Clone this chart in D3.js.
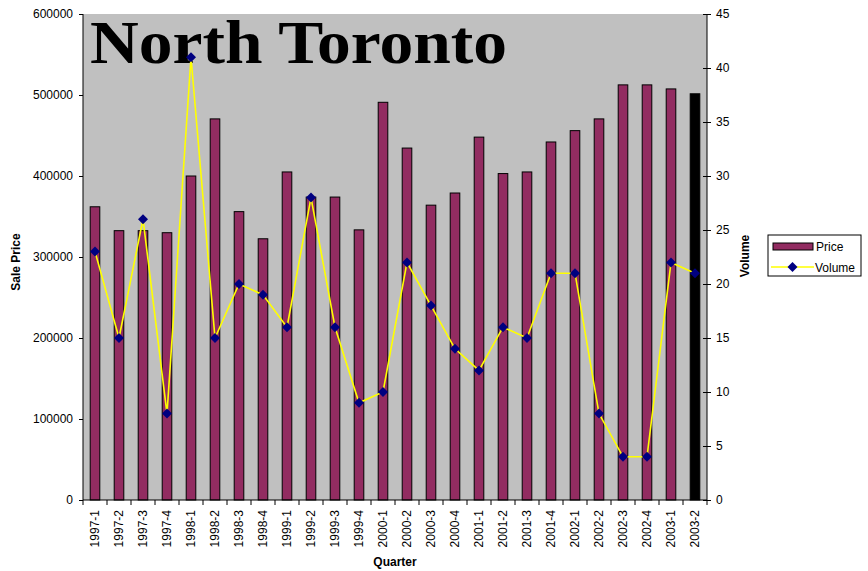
<!DOCTYPE html>
<html>
<head>
<meta charset="utf-8">
<script src="https://cdn.jsdelivr.net/npm/d3@7"></script>
<style>
  body { margin: 0; background: #fff; }
  text { font-family: "Liberation Sans", Arial, sans-serif; }
</style>
</head>
<body>
<svg width="868" height="571"></svg>
<script>
  // data
  const quarters = ["1997-1","1997-2","1997-3","1997-4","1998-1","1998-2","1998-3","1998-4",
    "1999-1","1999-2","1999-3","1999-4","2000-1","2000-2","2000-3","2000-4",
    "2001-1","2001-2","2001-3","2001-4","2002-1","2002-2","2002-3","2002-4",
    "2003-1","2003-2"];
  const prices = [362000, 332500, 332500, 330000, 400000, 470500, 356000, 322500,
    405000, 374000, 374000, 333500, 491000, 434500, 364000, 379000,
    448000, 403000, 405000, 442000, 456000, 470500, 512500, 512500,
    507500, 501500];
  const volumes = [23, 15, 26, 8, 41, 15, 20, 19, 16, 28, 16, 9, 10, 22, 18, 14,
    12, 16, 15, 21, 21, 8, 4, 4, 22, 21];
  const priceTicks = [0, 100000, 200000, 300000, 400000, 500000, 600000];
  const volumeTicks = [0, 5, 10, 15, 20, 25, 30, 35, 40, 45];

  const svg = d3.select("svg");
  const plotL = 83, plotR = 707, plotT = 14, plotB = 500;

  const x = d3.scaleBand()
    .domain(quarters)
    .range([plotL, plotR])
    .paddingInner(0.6)
    .paddingOuter(0.3);
  const step = x.step();
  const cx = d => x(d) + x.bandwidth() / 2;

  const y = d3.scaleLinear().domain([0, 600000]).range([plotB, plotT]);
  const yv = d3.scaleLinear().domain([0, 45]).range([plotB, plotT]);

  // plot area
  svg.append("rect")
    .attr("x", plotL).attr("y", plotT)
    .attr("width", plotR - plotL).attr("height", plotB - plotT)
    .attr("fill", "#c0c0c0");

  // title inside plot
  svg.append("text")
    .attr("x", 90).attr("y", 63)
    .attr("textLength", 417)
    .attr("lengthAdjust", "spacingAndGlyphs")
    .style("font-family", "'Liberation Serif', 'DejaVu Serif', serif")
    .style("font-weight", "bold")
    .style("font-size", "62px")
    .attr("fill", "#000")
    .text("North Toronto");

  // bars
  svg.append("g")
    .selectAll("rect")
    .data(quarters)
    .enter()
    .append("rect")
    .attr("x", d => x(d))
    .attr("y", (d, i) => y(prices[i]))
    .attr("width", x.bandwidth())
    .attr("height", (d, i) => plotB - y(prices[i]))
    .attr("fill", (d, i) => i === quarters.length - 1 ? "#000" : "#922c61")
    .attr("stroke", "#000")
    .attr("stroke-width", 1);

  // volume line
  const line = d3.line()
    .x((d, i) => cx(quarters[i]))
    .y(d => yv(d));
  svg.append("path")
    .datum(volumes)
    .attr("d", line)
    .attr("fill", "none")
    .attr("stroke", "#ffff00")
    .attr("stroke-width", 1.6);

  const diamond = d3.symbol().type(d3.symbolSquare).size(50);
  svg.append("g")
    .selectAll("path")
    .data(volumes)
    .enter()
    .append("path")
    .attr("d", diamond)
    .attr("transform", (d, i) => `translate(${cx(quarters[i])},${yv(d)}) rotate(45)`)
    .attr("fill", "#000080");

  // left axis
  const gl = svg.append("g")
    .attr("transform", `translate(${plotL},0)`)
    .call(d3.axisLeft(y).tickValues(priceTicks).tickFormat(d3.format("d")).tickSize(4).tickPadding(6));
  gl.select(".domain").attr("stroke", "#000").attr("d", `M0,${plotT}V${plotB}`);
  gl.selectAll("text").style("font-size", "12px").style("font-family", "'Liberation Sans', Arial, sans-serif").attr("fill", "#000");

  // right axis
  const gr = svg.append("g")
    .attr("transform", `translate(${plotR},0)`)
    .call(d3.axisRight(yv).tickValues(volumeTicks).tickSize(4).tickPadding(5));
  gr.select(".domain").attr("stroke", "#000").attr("d", `M0,${plotT}V${plotB}`);
  gr.selectAll("text").style("font-size", "12px").style("font-family", "'Liberation Sans', Arial, sans-serif").attr("fill", "#000");
  gr.selectAll(".tick line").attr("x1", -4).attr("x2", 4);

  // bottom axis: boundary ticks + rotated labels
  const gb = svg.append("g");
  gb.append("line")
    .attr("x1", plotL).attr("x2", plotR)
    .attr("y1", plotB).attr("y2", plotB)
    .attr("stroke", "#000");
  const bounds = quarters.map(d => x(d) - step * 0.3).concat([plotR]);
  gb.selectAll("line.tk")
    .data(bounds)
    .enter()
    .append("line")
    .attr("class", "tk")
    .attr("x1", d => d).attr("x2", d => d)
    .attr("y1", plotB).attr("y2", plotB + 5)
    .attr("stroke", "#000");
  gb.selectAll("text")
    .data(quarters)
    .enter()
    .append("text")
    .attr("transform", d => `translate(${cx(d) + 4},${plotB + 10}) rotate(-90)`)
    .attr("text-anchor", "end")
    .style("font-size", "12px")
    .attr("fill", "#000")
    .text(d => d);

  // axis titles
  svg.append("text")
    .attr("transform", "translate(20,262) rotate(-90)")
    .attr("text-anchor", "middle")
    .style("font-size", "12px").style("font-weight", "bold")
    .text("Sale Price");
  svg.append("text")
    .attr("transform", "translate(749,256) rotate(-90)")
    .attr("text-anchor", "middle")
    .style("font-size", "12px").style("font-weight", "bold")
    .text("Volume");
  svg.append("text")
    .attr("x", 395).attr("y", 566)
    .attr("text-anchor", "middle")
    .style("font-size", "12px").style("font-weight", "bold")
    .text("Quarter");

  // legend
  const lg = svg.append("g").attr("transform", "translate(768,235)");
  lg.append("rect")
    .attr("width", 93).attr("height", 41)
    .attr("fill", "#fff").attr("stroke", "#000");
  lg.append("rect")
    .attr("x", 5).attr("y", 8).attr("width", 40).attr("height", 7)
    .attr("fill", "#922c61").attr("stroke", "#000");
  lg.append("text")
    .attr("x", 48).attr("y", 16)
    .style("font-size", "12px")
    .text("Price");
  lg.append("line")
    .attr("x1", 3).attr("x2", 46).attr("y1", 32).attr("y2", 32)
    .attr("stroke", "#ffff00").attr("stroke-width", 1.6);
  lg.append("path")
    .attr("d", diamond)
    .attr("transform", "translate(24.5,32) rotate(45)")
    .attr("fill", "#000080");
  lg.append("text")
    .attr("x", 47).attr("y", 37)
    .style("font-size", "12px")
    .text("Volume");
</script>
</body>
</html>
